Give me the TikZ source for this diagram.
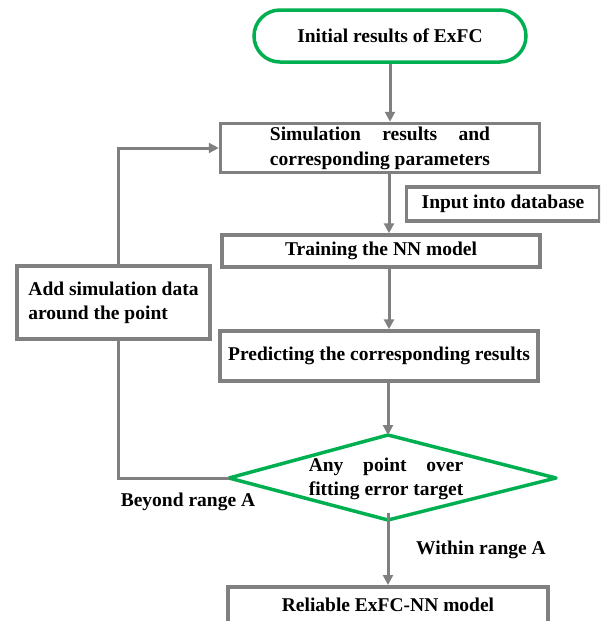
\documentclass[tikz,border=0pt]{standalone}
\usepackage{fontspec}
\setmainfont{Liberation Serif}
\usetikzlibrary{arrows.meta}
\definecolor{linegray}{RGB}{128,128,128}
\definecolor{flowgreen}{RGB}{0,176,80}
\newlength\linelen
\begin{document}
\begin{tikzpicture}[x=1pt,y=-1pt,
  every node/.style={font=\fontsize{19.5}{24}\selectfont\bfseries, text=black},
  procbox/.style={draw=linegray, line width=3.5pt, fill=white, inner sep=0pt},
  conn/.style={draw=linegray, line width=3pt},
  arr/.style={conn, -{Triangle[length=10pt,width=10pt]}},
  plain/.style={inner sep=0pt},
]
\useasboundingbox (0,0) rectangle (600,621);
\clip (0,0) rectangle (600,621);

% start terminal
\node[draw=flowgreen, line width=3.5pt, rounded corners=26pt, minimum width=272pt,
      minimum height=52pt, inner sep=0pt] (init) at (390,36) {Initial results of ExFC};

% process boxes
\node[procbox, minimum width=319pt, minimum height=49pt, align=left,
      font=\fontsize{19.5}{25}\selectfont\bfseries]
  (sim) at (380,148) {\settowidth{\linelen}{corresponding parameters}\makebox[\linelen][s]{Simulation results and}\\corresponding parameters};
\node[procbox, minimum width=193pt, minimum height=34pt] (db) at (503,204) {Input into database};
\node[procbox, minimum width=318pt, minimum height=32pt] (train) at (381,251) {Training the NN model};
\node[procbox, minimum width=193pt, minimum height=73pt, align=left]
  (add) at (113.5,302.5) {Add simulation data\\around the point};
\node[procbox, minimum width=318pt, minimum height=50pt] (pred) at (379,356) {Predicting the corresponding results};
\node[procbox, minimum width=320pt, anchor=north, inner ysep=11pt, text depth=40pt]
  (rel) at (388,585) {Reliable ExFC-NN model};

% decision
\coordinate (dtop) at (388,435);
\coordinate (dright) at (556,478);
\coordinate (dbot) at (388,520);
\coordinate (dleft) at (229,478);
\draw[draw=flowgreen, line width=3.5pt, line join=round, fill=white]
  (dtop) -- (dright) -- (dbot) -- (dleft) -- cycle;
\node[plain, align=left] (dtext) at (386,479)
  {\settowidth{\linelen}{fitting error target}\makebox[\linelen][s]{Any point over}\\fitting error target};

% labels
\node[plain] (beyond) at (188,502) {Beyond range A};
\node[plain] (within) at (481,550) {Within range A};

% connectors
\draw[arr] (init.south) -- (init.south |- sim.north);
\draw[arr] ([xshift=9pt]sim.south) -- ([xshift=9pt]sim.south |- train.north);
\draw[arr] ([xshift=8pt]train.south) -- ([xshift=8pt]train.south |- pred.north);
\draw[arr] ([xshift=9pt]pred.south) -- (dtop);
\draw[arr] ([yshift=7pt]dbot) -- (dbot |- rel.north);
\draw[conn] (dleft) -| ([xshift=4.5pt]add.south);
\draw[arr] ([xshift=4.5pt]add.north) |- (sim.west);
\end{tikzpicture}
\end{document}
